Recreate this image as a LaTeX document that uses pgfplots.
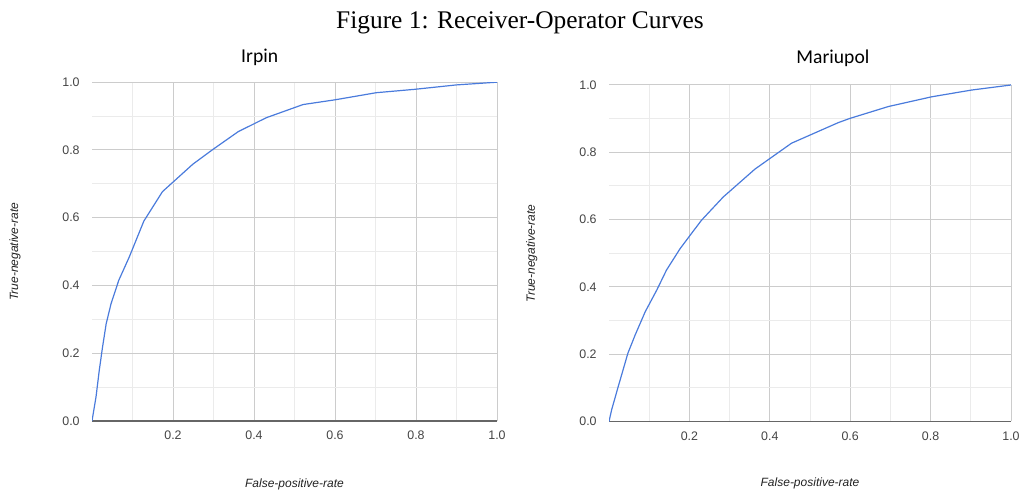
\documentclass[border=0pt]{standalone}
\usepackage{fontspec}
\setmainfont{Liberation Serif}
\newfontfamily\arial{Liberation Sans}
\newfontfamily\carlito{Carlito}
\usepackage{pgfplots}
\pgfplotsset{compat=1.18}
\definecolor{curve}{HTML}{4A7BDC}
\definecolor{gmaj}{HTML}{CCCCCC}
\definecolor{gmin}{HTML}{EBEBEB}
\definecolor{base}{HTML}{666666}
\definecolor{tick}{HTML}{444444}
\definecolor{lab}{HTML}{222222}
\pgfplotsset{
  rocstyle/.style={
    scale only axis,
    xmin=0, xmax=1, ymin=0, ymax=1,
    xtick={0.2,0.4,0.6,0.8,1.0},
    ytick={0,0.2,0.4,0.6,0.8,1.0},
    minor xtick={0.1,0.3,0.5,0.7,0.9},
    minor ytick={0.1,0.3,0.5,0.7,0.9},
    grid=both,
    major grid style={gmaj, line width=0.5pt},
    minor grid style={gmin, line width=0.5pt},
    axis x line*=bottom, axis y line*=left,
    x axis line style={draw=base, line width=0.6pt, -},
    y axis line style={draw=none, -},
    major tick length=0pt, minor tick length=0pt,
    tick style={draw=none},
    /pgf/number format/assume math mode=true,
    /pgf/number format/.cd, fixed, fixed zerofill, precision=1, /pgfplots/.cd,
    ticklabel style={font=\arial\fontsize{6.2}{7}\selectfont, text=tick},
    yticklabel style={anchor=east, inner sep=0pt, xshift=-6pt},
    xticklabel style={anchor=north, inner sep=0pt, yshift=-4.8pt},
    label style={font=\arial\itshape\fontsize{6}{7}\selectfont, text=lab},
    title style={font=\carlito\fontsize{9.8}{11}\selectfont, anchor=center, inner sep=0pt, yshift=-7pt},
    xlabel={False-positive-rate},
    ylabel={True-negative-rate},
  }
}
\begin{document}
\begin{tikzpicture}
\path (0,0) rectangle (510.5pt,245.5pt);
\node[font=\fontsize{12.7}{14}\selectfont, anchor=base] at (260pt,231pt) {Figure 1: Receiver-Operator Curves};

\begin{axis}[rocstyle,
  at={(46pt,35pt)}, anchor=south west,
  width=202.5pt, height=169.4pt,
  title={Irpin},
  title style={at={(axis description cs:0.414,1.078)}},
  xlabel style={at={(axis description cs:0.5,-0.186)}, anchor=center},
  ylabel style={at={(axis description cs:-0.19,0.5)}, anchor=center, rotate=0},
]
\addplot[curve, line width=0.6pt] coordinates {
(0,0) (0.0099,0.071) (0.018,0.15) (0.026,0.218) (0.035,0.287) (0.047,0.346)
(0.066,0.415) (0.092,0.484) (0.128,0.59) (0.174,0.677) (0.249,0.758) (0.299,0.802)
(0.361,0.854) (0.43,0.895) (0.521,0.934) (0.6,0.948) (0.702,0.969)
(0.797,0.979) (0.9,0.992) (1,1)
};
\end{axis}

\begin{axis}[rocstyle,
  at={(304.5pt,34.75pt)}, anchor=south west,
  width=201pt, height=168.25pt,
  title={Mariupol},
  title style={at={(axis description cs:0.557,1.086)}},
  xlabel style={at={(axis description cs:0.5,-0.184)}, anchor=center},
  ylabel style={at={(axis description cs:-0.192,0.5)}, anchor=center, rotate=0},
]
\addplot[curve, line width=0.6pt] coordinates {
(0,0) (0.0066,0.035) (0.023,0.104) (0.047,0.203) (0.065,0.257) (0.09,0.326)
(0.119,0.391) (0.143,0.45) (0.177,0.514) (0.199,0.549) (0.23,0.598) (0.284,0.667)
(0.363,0.75) (0.454,0.827) (0.57,0.888) (0.6,0.901)
(0.695,0.936) (0.803,0.965) (0.902,0.985) (1,1)
};
\end{axis}
\end{tikzpicture}
\end{document}
